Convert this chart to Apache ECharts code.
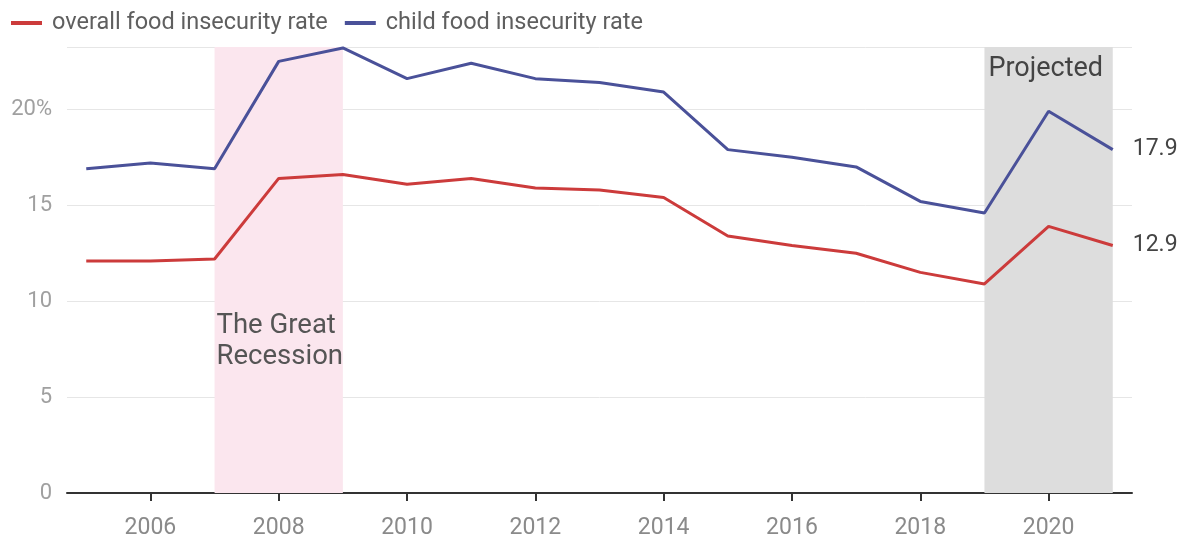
<!DOCTYPE html>
<html><head><meta charset="utf-8">
<script src="https://cdn.jsdelivr.net/npm/echarts@6/dist/echarts.min.js"></script>
<style>html,body{margin:0;padding:0;background:#fff}#c{width:1187px;height:542px}</style>
</head><body><div id="c"></div>
<script>
const years = [2005,2006,2007,2008,2009,2010,2011,2012,2013,2014,2015,2016,2017,2018,2019,2020,2021];
const overall = [12.1,12.1,12.2,16.4,16.6,16.1,16.4,15.9,15.8,15.4,13.4,12.9,12.5,11.5,10.9,13.9,12.9];
const child = [16.9,17.2,16.9,22.5,23.2,21.6,22.4,21.6,21.4,20.9,17.9,17.5,17.0,15.2,14.6,19.9,17.9];
const xTicks = [2006,2008,2010,2012,2014,2016,2018,2020];
const seriesNames = ['overall food insecurity rate','child food insecurity rate'];
const recession = [2007,2009];
const projected = [2019,2021];

const font = 'Roboto, "Noto Sans", sans-serif';
const chart = echarts.init(document.getElementById('c'));
chart.setOption({
  animation:false,
  textStyle:{fontFamily:font},
  legend:{left:6,top:6,itemWidth:31,itemHeight:4,itemGap:17,icon:'rect',
    textStyle:{fontSize:23.5,color:'#5f5f5f',fontFamily:font,padding:[0,0,0,5]},
    data:seriesNames},
  grid:{left:67,right:55,top:47,bottom:49},
  xAxis:{type:'value',min:2004.7,max:2021.3,
    axisLine:{lineStyle:{color:'#333',width:2}},
    axisTick:{show:true,length:8,lineStyle:{color:'#333',width:2},customValues:xTicks},
    axisLabel:{customValues:xTicks,fontSize:23,color:'#8a8a8a',margin:24,fontFamily:font,
      formatter:v=>String(v)},
    splitLine:{show:false}},
  yAxis:{type:'value',min:0,max:23.25,interval:5,
    axisLine:{show:false},axisTick:{show:false},
    axisLabel:{fontSize:22,color:'#a0a0a0',margin:15,fontFamily:font,
      formatter:v=>v===20?'20%':String(v), showMaxLabel:false},
    splitLine:{lineStyle:{color:'#e6e6e6',width:1}}},
  series:[
    {name:seriesNames[0],type:'line',data:years.map((y,i)=>[y,overall[i]]),
     symbol:'none',lineStyle:{color:'#cc3b3b',width:3},itemStyle:{color:'#cc3b3b'},z:3,
     endLabel:{show:true,formatter:p=>p.value[1].toFixed(1),fontSize:23,color:'#444',distance:20,fontFamily:font},
     markArea:{silent:true,
       data:[[{xAxis:recession[0],yAxis:23.25,itemStyle:{color:'#fbe6ee'},
               label:{show:true,formatter:'The Great\nRecession',position:[2,264],fontSize:27.5,color:'#555',lineHeight:31,align:'left',fontFamily:font}},
              {xAxis:recession[1],yAxis:0}],
             [{xAxis:projected[0],yAxis:23.25,itemStyle:{color:'#dddddd'},
               label:{show:true,formatter:'Projected',position:[4,9],fontSize:27,color:'#444',align:'left',fontFamily:font}},
              {xAxis:projected[1],yAxis:0}]]},
    },
    {name:seriesNames[1],type:'line',data:years.map((y,i)=>[y,child[i]]),
     symbol:'none',lineStyle:{color:'#4a5199',width:3},itemStyle:{color:'#4a5199'},z:3,
     endLabel:{show:true,formatter:p=>p.value[1].toFixed(1),fontSize:23,color:'#444',distance:20,fontFamily:font}}
  ]
});
</script></body></html>
